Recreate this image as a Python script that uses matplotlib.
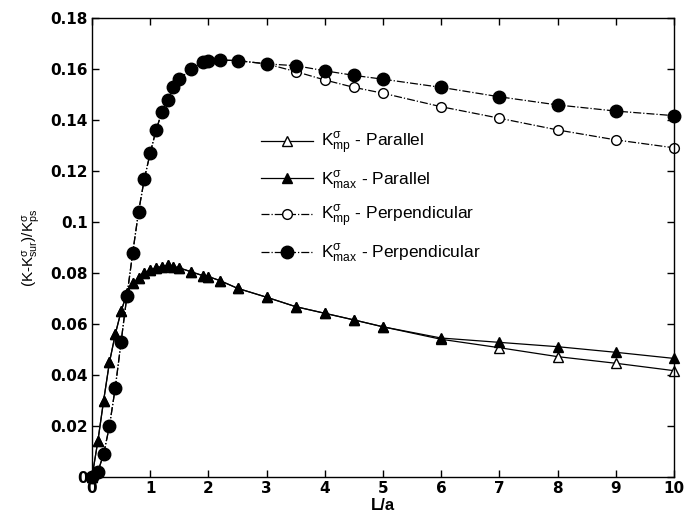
import matplotlib
matplotlib.use("Agg")
import matplotlib.pyplot as plt

plt.rcParams["font.family"] = ["Liberation Sans", "DejaVu Sans"]
plt.rcParams["mathtext.fontset"] = "custom"
plt.rcParams["mathtext.rm"] = "Liberation Sans"
plt.rcParams["mathtext.it"] = "Liberation Sans:italic"
plt.rcParams["mathtext.bf"] = "Liberation Sans:bold"

# L/a positions
x_par = [0, 0.1, 0.2, 0.3, 0.4, 0.5, 0.6, 0.7, 0.8, 0.9, 1.0, 1.1, 1.2, 1.3, 1.4,
         1.5, 1.7, 1.9, 2.0, 2.2, 2.5, 3, 3.5, 4, 4.5, 5, 6, 7, 8, 9, 10]
kmax_par = [0.0, 0.014, 0.030, 0.045, 0.056, 0.065, 0.072, 0.076, 0.078, 0.080, 0.081,
            0.082, 0.0825, 0.083, 0.0825, 0.082, 0.0805, 0.079, 0.0786, 0.077, 0.074,
            0.0705, 0.0668, 0.0642, 0.0616, 0.0589, 0.0545, 0.0528, 0.0511, 0.0489, 0.0465]
kmp_par = [0.0, 0.014, 0.030, 0.045, 0.056, 0.065, 0.072, 0.076, 0.078, 0.080, 0.081,
           0.082, 0.0825, 0.083, 0.0825, 0.082, 0.0805, 0.079, 0.0786, 0.077, 0.074,
           0.0705, 0.0668, 0.0642, 0.0616, 0.0589, 0.054, 0.0507, 0.0472, 0.0446, 0.0417]

x_perp = [0, 0.1, 0.2, 0.3, 0.4, 0.5, 0.6, 0.7, 0.8, 0.9, 1.0, 1.1, 1.2, 1.3, 1.4,
          1.5, 1.7, 1.9, 2.0, 2.2, 2.5, 3, 3.5, 4, 4.5, 5, 6, 7, 8, 9, 10]
kmax_perp = [0.0, 0.002, 0.009, 0.020, 0.035, 0.053, 0.071, 0.088, 0.104, 0.117, 0.127,
             0.136, 0.143, 0.148, 0.153, 0.156, 0.160, 0.1626, 0.163, 0.1635, 0.1633,
             0.162, 0.1613, 0.1593, 0.1575, 0.156, 0.1528, 0.1491, 0.1459, 0.1435, 0.1417]
kmp_perp = [0.0, 0.002, 0.009, 0.020, 0.035, 0.053, 0.071, 0.088, 0.104, 0.117, 0.127,
            0.136, 0.143, 0.148, 0.153, 0.156, 0.160, 0.1626, 0.163, 0.1635, 0.1633,
            0.162, 0.159, 0.1557, 0.1528, 0.1505, 0.1452, 0.1407, 0.1361, 0.1322, 0.1291]

labels = [
    r"$\mathrm{K}^{\mathrm{σ}}_{\mathrm{mp}}$ - Parallel",
    r"$\mathrm{K}^{\mathrm{σ}}_{\mathrm{max}}$ - Parallel",
    r"$\mathrm{K}^{\mathrm{σ}}_{\mathrm{mp}}$ - Perpendicular",
    r"$\mathrm{K}^{\mathrm{σ}}_{\mathrm{max}}$ - Perpendicular",
]

fig = plt.figure(figsize=(6.94, 5.25), dpi=100)
ax = fig.add_axes([92 / 694, 48 / 525, 582 / 694, 459 / 525])

ax.plot(x_par, kmp_par, "-", color="black", lw=0.9, marker="^", ms=7.5,
        mfc="white", mec="black", mew=1.0, label=labels[0], clip_on=False)
ax.plot(x_par, kmax_par, "-", color="black", lw=0.9, marker="^", ms=7.5,
        mfc="black", mec="black", label=labels[1], clip_on=False)
ax.plot(x_perp, kmp_perp, "-.", color="black", lw=0.9, marker="o", ms=7,
        mfc="white", mec="black", mew=1.0, label=labels[2], clip_on=False)
ax.plot(x_perp, kmax_perp, "-.", color="black", lw=0.9, marker="o", ms=9,
        mfc="black", mec="black", label=labels[3], clip_on=False)

ax.set_xlim(0, 10)
ax.set_ylim(0, 0.18)
ax.set_xticks(range(0, 11))
yt = [0, 0.02, 0.04, 0.06, 0.08, 0.1, 0.12, 0.14, 0.16, 0.18]
ax.set_yticks(yt)
ax.set_yticklabels(["0", "0.02", "0.04", "0.06", "0.08", "0.1", "0.12", "0.14", "0.16", "0.18"])
ax.tick_params(direction="in", top=True, right=True, length=5, width=1, pad=3)
for lbl in ax.get_xticklabels() + ax.get_yticklabels():
    lbl.set_fontweight("bold")
    lbl.set_fontfamily("DejaVu Sans")
    lbl.set_fontsize(11)
for sp in ax.spines.values():
    sp.set_linewidth(1.0)

ax.set_xlabel("L/a", fontsize=12, fontweight="bold", labelpad=1)
ax.set_ylabel(r"(K-K$^{\mathrm{σ}}_{\mathrm{sur}}$)/K$^{\mathrm{σ}}_{\mathrm{ps}}$", fontsize=11, labelpad=6)

ax.legend(loc="upper left", bbox_to_anchor=(252 / 694, 1 - 122 / 525), bbox_transform=fig.transFigure,
          frameon=False, fontsize=12.5, handlelength=3.0, handletextpad=0.5, labelspacing=0.7,
          borderpad=0)

fig.savefig("out.png", dpi=100)
